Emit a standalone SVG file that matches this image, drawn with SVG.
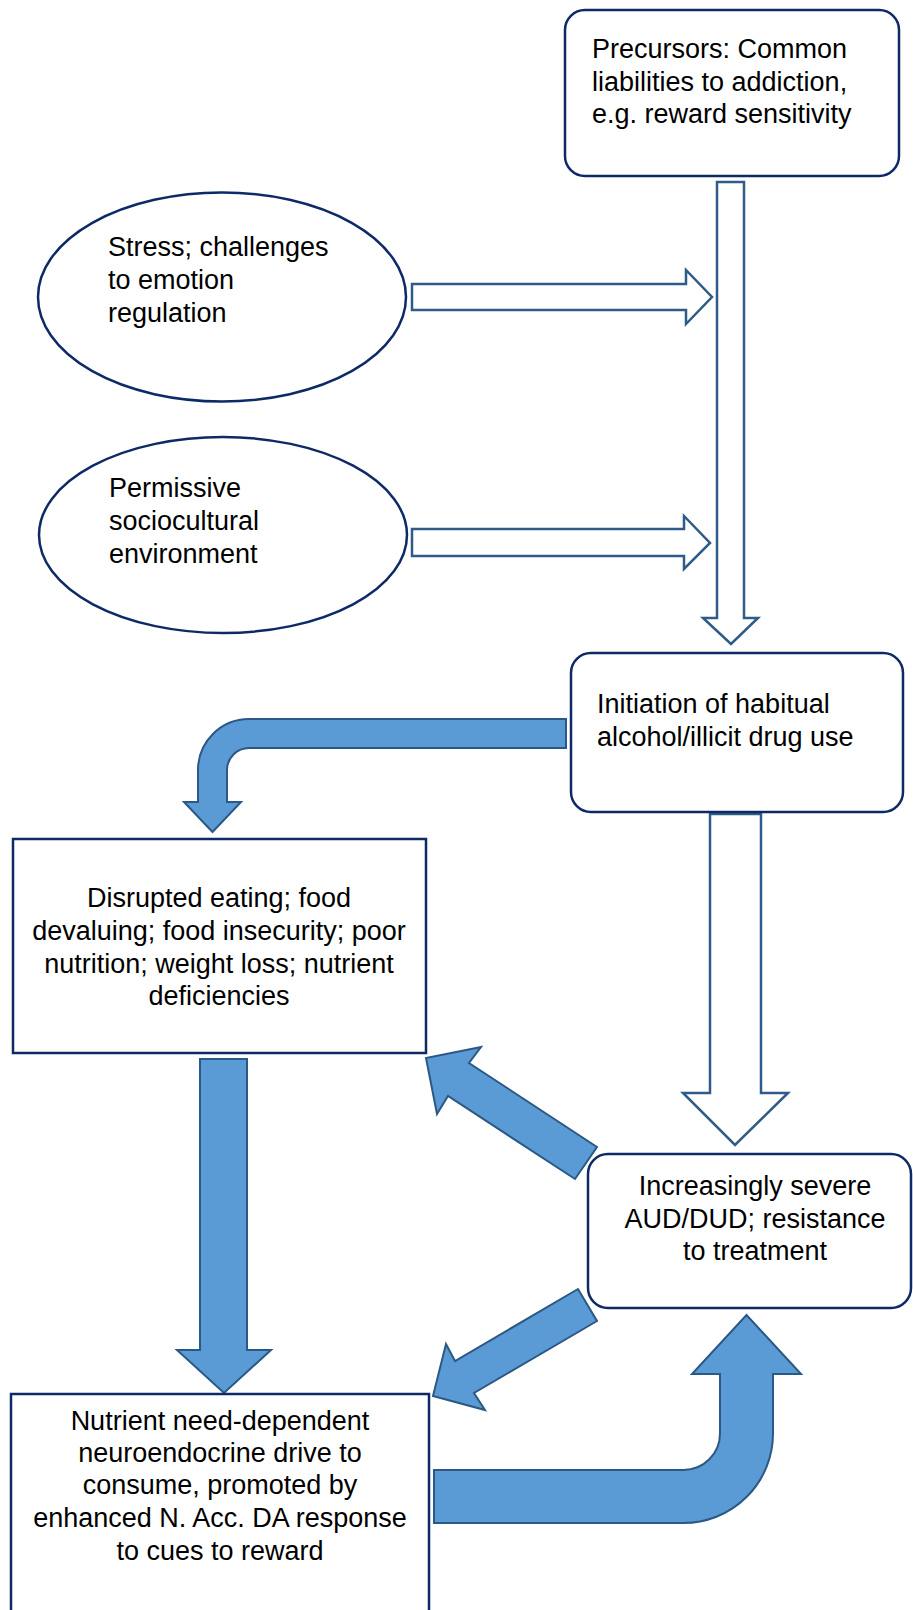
<svg xmlns="http://www.w3.org/2000/svg" width="913" height="1610" viewBox="0 0 913 1610">
<style>
.node{fill:#ffffff;stroke:#0e2a66;stroke-width:2.5}
.hollow{fill:#ffffff;stroke:#2e5b87;stroke-width:2.5;stroke-linejoin:miter}
.solid{fill:#5b9bd5;stroke:#2b5884;stroke-width:2;stroke-linejoin:miter}
text{font-family:"Liberation Sans",Arial,sans-serif;font-size:27px;fill:#000000}
.c{text-anchor:middle}
</style>
<rect width="913" height="1610" fill="#ffffff"/>
<g id="connectors">
<polygon class="hollow" points="717,182 744,182 744,618 758,618 731,644 703,618 717,618"/>
<polygon class="hollow" points="412,284 686,284 686,270 712,297 686,324 686,310 412,310"/>
<polygon class="hollow" points="412,529 684,529 684,516 710,543 684,569 684,556 412,556"/>
<polygon class="hollow" points="710,814 761,814 761,1093 788,1093 735,1145 683,1093 710,1093"/>
<path class="solid" d="M566,719 L249,719 A51,51 0 0 0 198,770 L198,802 L184,802 L212.5,832 L241,802 L227,802 L227,770 A22,22 0 0 1 249,748 L566,748 Z"/>
<polygon class="solid" points="200,1059 247,1059 247,1350 271,1350 224,1393 177,1350 200,1350"/>
<polygon class="solid" points="597,1147 469,1063 481,1047 426,1058 437,1114 448,1096 575,1179"/>
<polygon class="solid" points="578,1289 455,1361 446,1344 433,1396 485,1410 474,1393 597,1321"/>
<path class="solid" d="M434,1470 L683.5,1470 A36.5,36.5 0 0 0 720,1433.5 L720,1374 L692,1374 L746.5,1315 L801,1374 L773,1374 L773,1433.5 A89.5,89.5 0 0 1 683.5,1523 L434,1523 Z"/>
</g>
<g id="precursors">
<rect class="node" x="565" y="10" width="334" height="166" rx="20"/>
<text x="592" y="58">Precursors: Common</text>
<text x="592" y="91">liabilities to addiction,</text>
<text x="592" y="123">e.g. reward sensitivity</text>
</g>
<g id="stress">
<ellipse class="node" cx="222" cy="297" rx="184" ry="104.5"/>
<text x="108" y="256">Stress; challenges</text>
<text x="108" y="289">to emotion</text>
<text x="108" y="322">regulation</text>
</g>
<g id="permissive">
<ellipse class="node" cx="223" cy="535" rx="184" ry="98"/>
<text x="109" y="497">Permissive</text>
<text x="109" y="530">sociocultural</text>
<text x="109" y="563">environment</text>
</g>
<g id="initiation">
<rect class="node" x="571" y="653" width="332" height="159" rx="20"/>
<text x="597" y="713">Initiation of habitual</text>
<text x="597" y="746">alcohol/illicit drug use</text>
</g>
<g id="disrupted">
<rect class="node" x="13" y="839" width="413" height="214"/>
<text class="c" x="219" y="907">Disrupted eating; food</text>
<text class="c" x="219" y="940">devaluing; food insecurity; poor</text>
<text class="c" x="219" y="973">nutrition; weight loss; nutrient</text>
<text class="c" x="219" y="1005">deficiencies</text>
</g>
<g id="severe">
<rect class="node" x="588" y="1154" width="323" height="154" rx="20"/>
<text class="c" x="755" y="1195">Increasingly severe</text>
<text class="c" x="755" y="1228">AUD/DUD; resistance</text>
<text class="c" x="755" y="1260">to treatment</text>
</g>
<g id="nutrient">
<rect class="node" x="11" y="1394" width="418" height="230"/>
<text class="c" x="220" y="1430">Nutrient need-dependent</text>
<text class="c" x="220" y="1462">neuroendocrine drive to</text>
<text class="c" x="220" y="1494">consume, promoted by</text>
<text class="c" x="220" y="1527">enhanced N. Acc. DA response</text>
<text class="c" x="220" y="1560">to cues to reward</text>
</g>
</svg>
